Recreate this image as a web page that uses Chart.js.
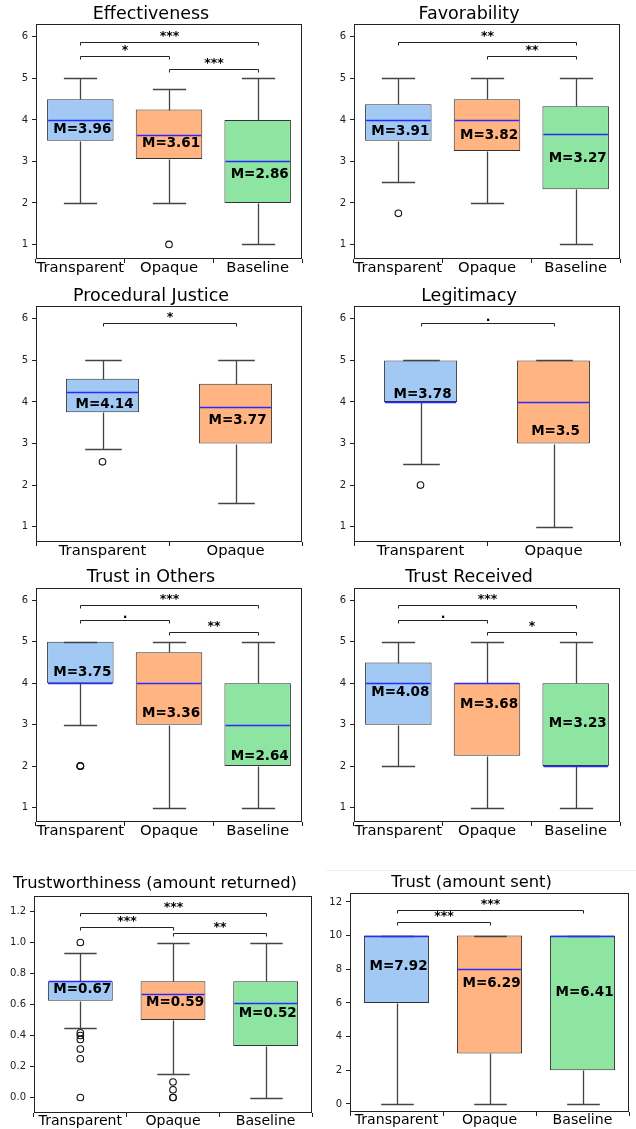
<!DOCTYPE html>
<html>
<head>
<meta charset="utf-8">
<script src="https://cdn.jsdelivr.net/npm/chart.js@4.4.1/dist/chart.umd.min.js"></script>
<style>
  html, body { margin: 0; padding: 0; background: #fff; }
  body { width: 636px; height: 1129px; position: relative; overflow: hidden; }
  canvas { position: absolute; }
  #sep { position: absolute; left: 326px; top: 870px; width: 310px; height: 1px; background: #f0f0f0; }
</style>
</head>
<body>
<div id="sep"></div>
<script>
// groups and axis ticks
const groups3 = ['Transparent', 'Opaque', 'Baseline'];
const groups2 = ['Transparent', 'Opaque'];
const boxColors = ['#a1c9f4', '#ffb482', '#8de5a1'];

const likertTicks = [1, 2, 3, 4, 5, 6];
const likertTickLabels = ['1', '2', '3', '4', '5', '6'];
const returnedTicks = [0, 0.2, 0.4, 0.6, 0.8, 1.0, 1.2];
const returnedTickLabels = ['0.0', '0.2', '0.4', '0.6', '0.8', '1.0', '1.2'];
const sentTicks = [0, 2, 4, 6, 8, 10, 12];
const sentTickLabels = ['0', '2', '4', '6', '8', '10', '12'];

// Effectiveness
const effLow = [2, 2, 1];
const effQ1 = [3.5, 3.06, 2];
const effMedian = [4, 3.63, 3];
const effQ3 = [4.5, 4.25, 4];
const effHigh = [5, 4.75, 5];
const effOutliers = [[], [1], []];
const effMeans = [3.96, 3.61, 2.86];
const effMeanLabelAt = [3.76, 3.42, 2.68];
const effSig = [[0, 1, '*', 5.54], [1, 2, '***', 5.23], [0, 2, '***', 5.88]];

// Favorability
const favLow = [2.5, 2, 1];
const favQ1 = [3.5, 3.25, 2.33];
const favMedian = [4, 4, 3.67];
const favQ3 = [4.375, 4.5, 4.33];
const favHigh = [5, 5, 5];
const favOutliers = [[1.75], [], []];
const favMeans = [3.91, 3.82, 3.27];
const favMeanLabelAt = [3.72, 3.62, 3.07];
const favSig = [[1, 2, '**', 5.54], [0, 2, '**', 5.88]];

// Procedural Justice
const pjLow = [2.875, 1.56];
const pjQ1 = [3.75, 3];
const pjMedian = [4.25, 3.89];
const pjQ3 = [4.56, 4.44];
const pjHigh = [5, 5];
const pjOutliers = [[2.56], []];
const pjMeans = [4.14, 3.77];
const pjMeanLabelAt = [3.94, 3.56];
const pjSig = [[0, 1, '*', 5.89]];

// Legitimacy
const legLow = [2.5, 1];
const legQ1 = [4, 3];
const legMedian = [4, 4];
const legQ3 = [5, 5];
const legHigh = [5, 5];
const legOutliers = [[2], []];
const legMeans = [3.78, 3.5];
const legMeanLabelAt = [4.18, 3.3];
const legSig = [[0, 1, '.', 5.89]];

// Trust in Others
const tioLow = [3, 1, 1];
const tioQ1 = [4, 3, 2];
const tioMedian = [4, 4, 3];
const tioQ3 = [5, 4.75, 4];
const tioHigh = [5, 5, 5];
const tioOutliers = [[2, 2, 2], [], []];
const tioMeans = [3.75, 3.36, 2.64];
const tioMeanLabelAt = [4.25, 3.26, 2.24];
const tioSig = [[0, 1, '.', 5.53], [1, 2, '**', 5.24], [0, 2, '***', 5.89]];

// Trust Received
const trLow = [2, 1, 1];
const trQ1 = [3, 2.25, 2];
const trMedian = [4, 4, 2];
const trQ3 = [4.5, 4, 4];
const trHigh = [5, 5, 5];
const trOutliers = [[], [], []];
const trMeans = [4.08, 3.68, 3.23];
const trMeanLabelAt = [3.78, 3.48, 3.03];
const trSig = [[0, 1, '.', 5.53], [1, 2, '*', 5.24], [0, 2, '***', 5.89]];

// Trustworthiness (amount returned)
const twLow = [0.45, 0.15, 0];
const twQ1 = [0.625, 0.5, 0.333];
const twMedian = [0.75, 0.667, 0.607];
const twQ3 = [0.75, 0.75, 0.75];
const twHigh = [0.93, 1, 1];
const twOutliers = [[1, 0.417, 0.4, 0.375, 0.3125, 0.25, 0], [0.1, 0.05, 0, 0], []];
const twMeans = [0.67, 0.59, 0.52];
const twMeanLabelAt = [0.70, 0.616, 0.543];
const twSig = [[0, 1, '***', 1.10], [1, 2, '**', 1.061], [0, 2, '***', 1.189]];

// Trust (amount sent)
const tsLow = [0, 0, 0];
const tsQ1 = [6, 3, 2];
const tsMedian = [10, 8, 10];
const tsQ3 = [10, 10, 10];
const tsHigh = [10, 10, 10];
const tsOutliers = [[], [], []];
const tsMeans = [7.92, 6.29, 6.41];
const tsMeanLabelAt = [8.14, 7.17, 6.63];
const tsSig = [[0, 1, '***', 10.81], [0, 2, '***', 11.54]];

Chart.defaults.font.family = '"DejaVu Sans", sans-serif';

// frame = [left, top, right, bottom] of the plot box on the page
const panels = [
  { title: 'Effectiveness', groups: groups3, low: effLow, q1: effQ1, med: effMedian, q3: effQ3, high: effHigh,
    out: effOutliers, means: effMeans, meanAt: effMeanLabelAt, sig: effSig, ticks: likertTicks, tickLabels: likertTickLabels,
    yMin: 0.65, yMax: 6.31, frame: [36, 24, 302, 259], titleY: 14, titleSize: 17.5, xSize: 14.8, boxWidth: 0.75 },
  { title: 'Favorability', groups: groups3, low: favLow, q1: favQ1, med: favMedian, q3: favQ3, high: favHigh,
    out: favOutliers, means: favMeans, meanAt: favMeanLabelAt, sig: favSig, ticks: likertTicks, tickLabels: likertTickLabels,
    yMin: 0.65, yMax: 6.31, frame: [354, 24, 620, 259], titleY: 14, titleSize: 17.5, xSize: 14.8, boxWidth: 0.75 },
  { title: 'Procedural Justice', groups: groups2, low: pjLow, q1: pjQ1, med: pjMedian, q3: pjQ3, high: pjHigh,
    out: pjOutliers, means: pjMeans, meanAt: pjMeanLabelAt, sig: pjSig, ticks: likertTicks, tickLabels: likertTickLabels,
    yMin: 0.63, yMax: 6.31, frame: [36, 306, 302, 542], titleY: 296, titleSize: 17.5, xSize: 14.8, boxWidth: 0.55 },
  { title: 'Legitimacy', groups: groups2, low: legLow, q1: legQ1, med: legMedian, q3: legQ3, high: legHigh,
    out: legOutliers, means: legMeans, meanAt: legMeanLabelAt, sig: legSig, ticks: likertTicks, tickLabels: likertTickLabels,
    yMin: 0.63, yMax: 6.31, frame: [354, 306, 620, 542], titleY: 296, titleSize: 17.5, xSize: 14.8, boxWidth: 0.55 },
  { title: 'Trust in Others', groups: groups3, low: tioLow, q1: tioQ1, med: tioMedian, q3: tioQ3, high: tioHigh,
    out: tioOutliers, means: tioMeans, meanAt: tioMeanLabelAt, sig: tioSig, ticks: likertTicks, tickLabels: likertTickLabels,
    yMin: 0.65, yMax: 6.30, frame: [36, 588, 302, 822], titleY: 577, titleSize: 17.5, xSize: 14.8, boxWidth: 0.75 },
  { title: 'Trust Received', groups: groups3, low: trLow, q1: trQ1, med: trMedian, q3: trQ3, high: trHigh,
    out: trOutliers, means: trMeans, meanAt: trMeanLabelAt, sig: trSig, ticks: likertTicks, tickLabels: likertTickLabels,
    yMin: 0.65, yMax: 6.30, frame: [354, 588, 620, 822], titleY: 577, titleSize: 17.5, xSize: 14.8, boxWidth: 0.75 },
  { title: 'Trustworthiness (amount returned)', groups: groups3, low: twLow, q1: twQ1, med: twMedian, q3: twQ3, high: twHigh,
    out: twOutliers, means: twMeans, meanAt: twMeanLabelAt, sig: twSig, ticks: returnedTicks, tickLabels: returnedTickLabels,
    yMin: -0.1, yMax: 1.3, frame: [34, 896, 312, 1113], titleY: 884, titleSize: 16.3, xSize: 14.1, boxWidth: 0.7 },
  { title: 'Trust (amount sent)', groups: groups3, low: tsLow, q1: tsQ1, med: tsMedian, q3: tsQ3, high: tsHigh,
    out: tsOutliers, means: tsMeans, meanAt: tsMeanLabelAt, sig: tsSig, ticks: sentTicks, tickLabels: sentTickLabels,
    yMin: -0.48, yMax: 12.53, frame: [350, 893, 629, 1112], titleY: 883, titleSize: 16.3, xSize: 14.1, boxWidth: 0.7 }
];

// whiskers, medians, mean labels, significance brackets and the frame
function boxExtras(p) {
  return {
    id: 'boxExtras',
    afterDatasetsDraw(chart) {
      const { ctx, chartArea: a, scales: { y } } = chart;
      const bars = chart.getDatasetMeta(0).data;
      const py = v => Math.round(y.getPixelForValue(v)) + 0.5;
      ctx.save();

      bars.forEach((bar, i) => {
        const cx = Math.round(bar.x) + 0.5;
        const hw = bar.width / 2;
        const cap = hw / 2;
        ctx.strokeStyle = '#444';
        ctx.lineWidth = 1.3;
        ctx.beginPath();
        ctx.moveTo(cx, py(p.q1[i])); ctx.lineTo(cx, py(p.low[i]));
        ctx.moveTo(cx, py(p.q3[i])); ctx.lineTo(cx, py(p.high[i]));
        ctx.moveTo(cx - cap, py(p.low[i])); ctx.lineTo(cx + cap, py(p.low[i]));
        ctx.moveTo(cx - cap, py(p.high[i])); ctx.lineTo(cx + cap, py(p.high[i]));
        ctx.stroke();

        // median line
        ctx.strokeStyle = '#2a2aff';
        ctx.lineWidth = 1.6;
        ctx.beginPath();
        ctx.moveTo(bar.x - hw + 1, py(p.med[i])); ctx.lineTo(bar.x + hw - 1, py(p.med[i]));
        ctx.stroke();

        ctx.fillStyle = '#000';
        ctx.font = 'bold 13.5px "DejaVu Sans"';
        ctx.textAlign = 'center';
        ctx.textBaseline = 'middle';
        ctx.fillText('M=' + p.means[i], bar.x + 2, y.getPixelForValue(p.meanAt[i]));
      });

      p.sig.forEach(([i, j, label, level]) => {
        const x1 = Math.round(bars[i].x) + 0.5;
        const x2 = Math.round(bars[j].x) + 0.5;
        const yy = py(level);
        ctx.strokeStyle = '#222';
        ctx.lineWidth = 1;
        ctx.beginPath();
        ctx.moveTo(x1, yy + 3); ctx.lineTo(x1, yy); ctx.lineTo(x2, yy); ctx.lineTo(x2, yy + 3);
        ctx.stroke();
        ctx.fillStyle = '#000';
        ctx.font = 'bold 12.5px "DejaVu Sans"';
        ctx.textAlign = 'center';
        ctx.textBaseline = 'alphabetic';
        ctx.fillText(label, (x1 + x2) / 2, yy - 3);
      });

      ctx.strokeStyle = '#222';
      ctx.lineWidth = 1;
      ctx.strokeRect(Math.round(a.left) + 0.5, Math.round(a.top) + 0.5,
        Math.round(a.right - a.left) - 1, Math.round(a.bottom - a.top) - 1);
      ctx.restore();
    }
  };
}

function buildChart(p) {
  const yAxisW = 36, padR = 8, xAxisH = 22;
  const top = p.titleY - 14;
  const [fl, ft, fr, fb] = p.frame;
  const canvas = document.createElement('canvas');
  canvas.width = fr - fl + yAxisW + padR;
  canvas.height = fb - top + xAxisH;
  canvas.style.left = (fl - yAxisW) + 'px';
  canvas.style.top = top + 'px';
  document.body.appendChild(canvas);

  const lh = p.titleSize;
  const titleTop = 14 - lh / 2;
  const titleBottom = ft - top - titleTop - lh;

  const outlierPoints = [];
  p.out.forEach((vals, i) => vals.forEach(v => outlierPoints.push({ x: p.groups[i], y: v })));

  new Chart(canvas, {
    type: 'bar',
    data: {
      labels: p.groups,
      datasets: [
        {
          type: 'bar',
          data: p.q1.map((v, i) => [v, p.q3[i]]),
          backgroundColor: boxColors.slice(0, p.groups.length),
          borderColor: '#333',
          borderWidth: 1,
          borderSkipped: false,
          barPercentage: p.boxWidth,
          categoryPercentage: 1,
          grouped: false,
          order: 2
        },
        {
          type: 'line',
          data: outlierPoints,
          showLine: false,
          pointStyle: 'circle',
          pointRadius: 3.3,
          pointBackgroundColor: 'rgba(0,0,0,0)',
          pointBorderColor: '#111',
          pointBorderWidth: 1.1,
          clip: false,
          order: 1
        }
      ]
    },
    options: {
      responsive: false,
      animation: false,
      events: [],
      layout: { padding: { left: 0, right: padR, top: 0, bottom: 0 } },
      plugins: {
        legend: { display: false },
        tooltip: { enabled: false },
        title: {
          display: true,
          text: p.title,
          color: '#000',
          font: { size: p.titleSize, weight: 'normal', lineHeight: 1 },
          padding: { top: titleTop, bottom: titleBottom }
        }
      },
      scales: {
        x: {
          type: 'category',
          offset: true,
          grid: { display: true, offset: true, drawOnChartArea: false, drawTicks: true, tickLength: 4, color: '#222' },
          border: { display: false },
          ticks: { color: '#000', font: { size: p.xSize, lineHeight: 1 }, padding: -2.5, maxRotation: 0, autoSkip: false },
          afterFit: s => { s.height = xAxisH; }
        },
        y: {
          min: p.yMin,
          max: p.yMax,
          bounds: 'data',
          grid: { display: true, drawOnChartArea: false, drawTicks: true, tickLength: 4, color: '#222' },
          border: { display: false },
          ticks: { color: '#222', font: { size: 10 }, padding: 4, callback: (v, i) => p.tickLabels[i] },
          afterBuildTicks: s => { s.ticks = p.ticks.map(v => ({ value: v })); },
          afterFit: s => { s.width = yAxisW; }
        }
      }
    },
    plugins: [boxExtras(p)]
  });
}

panels.forEach(buildChart);
</script>
</body>
</html>
